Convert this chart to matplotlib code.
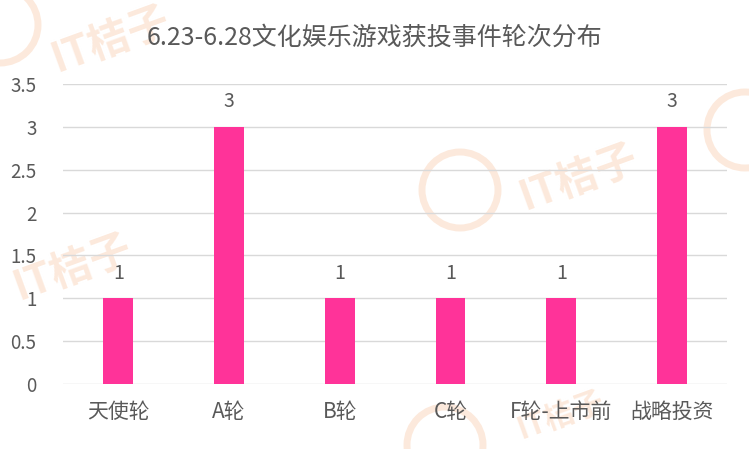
import matplotlib.pyplot as plt
from matplotlib.patches import Circle

plt.rcParams['font.family'] = ['Noto Sans CJK SC', 'DejaVu Sans']

categories = ["天使轮", "A轮", "B轮", "C轮", "F轮-上市前", "战略投资"]
counts = [1, 3, 1, 1, 1, 3]
yticks = [0, 0.5, 1, 1.5, 2, 2.5, 3, 3.5]
ytick_labels = ["0", "0.5", "1", "1.5", "2", "2.5", "3", "3.5"]

BAR = "#FF3399"
TEXT = "#595959"
GRID = "#D9D9D9"
WM = "#F9C9A8"

fig = plt.figure(figsize=(7.49, 4.49), dpi=100)
fig.patch.set_facecolor("white")

# faint watermark
wm = fig.add_axes([0, 0, 1, 1], zorder=0)
wm.set_xlim(0, 749); wm.set_ylim(449, 0); wm.axis("off")
for (cx, cy) in [(0, 25), (460, 190), (-50, 270), (445, 445), (745, 130)]:
    wm.add_patch(Circle((cx, cy), 38, facecolor="none", edgecolor=WM, lw=5, alpha=0.4))
for (tx, ty, fs) in [(110, 40, 30), (578, 178, 30), (72, 268, 30), (560, 415, 22)]:
    wm.text(tx, ty, "IT桔子", color=WM, alpha=0.4, fontsize=fs, fontweight="bold",
            rotation=20, ha="center", va="center")

ax = fig.add_axes([0.084, 0.145, 0.887, 0.668], zorder=1)
ax.patch.set_alpha(0)
x = range(len(categories))
bars = ax.bar(x, counts, width=0.27, color=BAR, zorder=3)
for b, v in zip(bars, counts):
    ax.text(b.get_x() + b.get_width() / 2, v + 0.17, str(v), ha="center", va="bottom",
            color=TEXT, fontsize=14)

ax.set_xlim(-0.5, len(categories) - 0.5)
ax.set_ylim(0, 3.5)
ax.set_yticks(yticks)
ax.set_yticklabels(ytick_labels)
ax.set_xticks(list(x))
ax.set_xticklabels(categories)
ax.tick_params(axis="both", length=0, colors=TEXT)
ax.tick_params(axis="y", labelsize=13.5, pad=19)
ax.tick_params(axis="x", labelsize=15, pad=12)
ax.yaxis.grid(True, color=GRID, lw=1, zorder=0)
for s in ax.spines.values():
    s.set_visible(False)

fig.text(0.5, 0.915, "6.23-6.28文化娱乐游戏获投事件轮次分布", ha="center", va="center",
         color=TEXT, fontsize=18)

fig.savefig("out.png", dpi=100, facecolor="white")
